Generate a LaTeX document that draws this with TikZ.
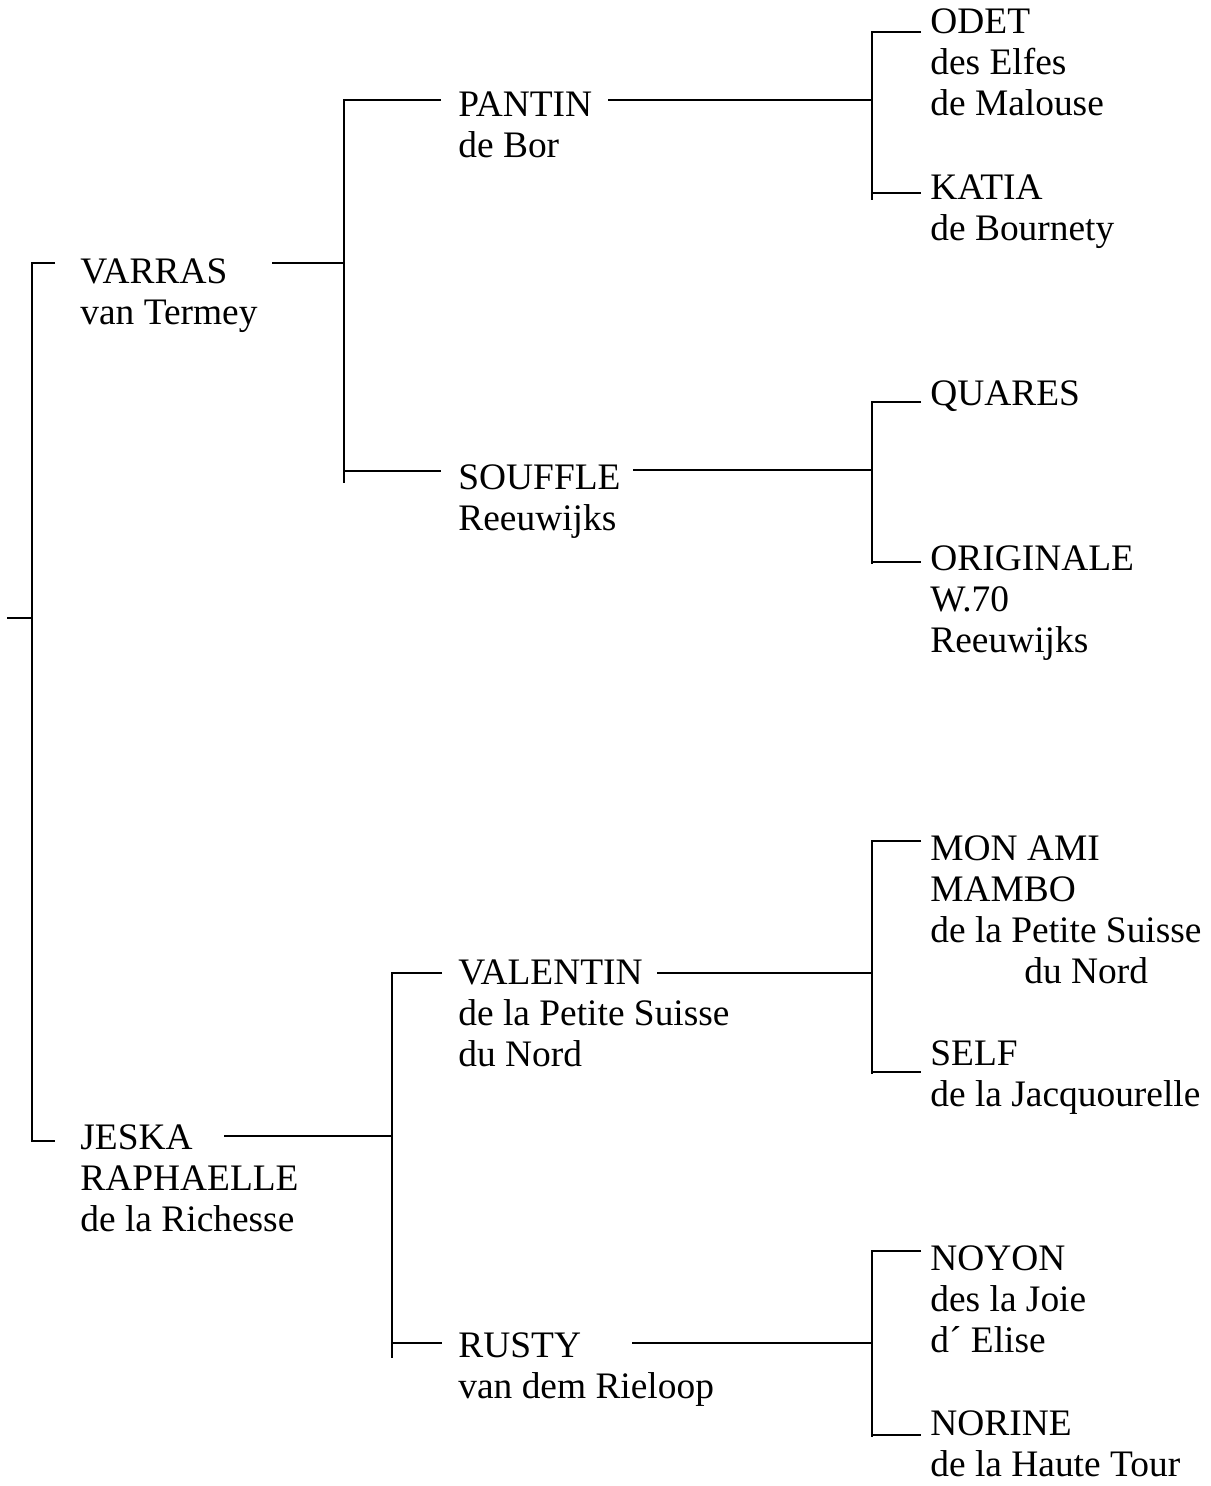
\documentclass[tikz,border=0pt]{standalone}
\usepackage{fontspec}
\setmainfont{Liberation Serif}
\usetikzlibrary{positioning}

\begin{document}
\begin{tikzpicture}[x=0.5pt,y=-0.5pt,
dog/.style={anchor=north west, inner sep=0pt, align=left, font=\fontsize{18.7}{20.5}\selectfont},
link/.style={line width=1.3pt}]
\useasboundingbox (0,0) rectangle (1210,1486);

\node[dog] (varras) at (80,258) {VARRAS\\van Termey};
\node[dog] (jeska) at (80,1124) {JESKA\\RAPHAELLE\\de la Richesse};

\node[dog] (pantin) at (458,91) {PANTIN\\de Bor};
\node[dog] (souffle) at (458,464) {SOUFFLE\\Reeuwijks};
\node[dog] (valentin) at (458,959) {VALENTIN\\de la Petite Suisse\\du Nord};
\node[dog] (rusty) at (458,1332) {RUSTY\\van dem Rieloop};

\node[dog] (odet) at (930,8) {ODET\\des Elfes\\de Malouse};
\node[dog] (katia) at (930,174) {KATIA\\de Bournety};
\node[dog] (quares) at (930,380) {QUARES};
\node[dog] (originale) at (930,545) {ORIGINALE\\W.70\\Reeuwijks};
\node[dog] (monami) at (930,835) {MON AMI\\MAMBO\\de la Petite Suisse\\\hspace*{47pt}du Nord};
\node[dog] (self) at (930,1040) {SELF\\de la Jacquourelle};
\node[dog] (noyon) at (930,1245) {NOYON\\des la Joie\\d´ Elise};
\node[dog] (norine) at (930,1410) {NORINE\\de la Haute Tour};

\coordinate (root) at (7,618);
\coordinate (root-v) at (32,618);
\coordinate (root-top) at (55,263);
\coordinate (root-bot) at (55,1141);
\draw[link] (root) -- (root-v);
\draw[link] (root-top) -- (32,263) -- (32,1141) -- (root-bot);

\coordinate (varras-out) at (272,263);
\coordinate (varras-v) at (344,263);
\coordinate (pantin-in) at (441,100);
\coordinate (souffle-in) at (441,471);
\draw[link] (varras-out) -- (varras-v);
\draw[link] (pantin-in) -- (344,100) -- (344,483);
\draw[link] (344,471) -- (souffle-in);

\coordinate (jeska-out) at (224,1136);
\coordinate (jeska-v) at (392,1136);
\coordinate (valentin-in) at (442,973);
\coordinate (rusty-in) at (442,1343);
\draw[link] (jeska-out) -- (jeska-v);
\draw[link] (valentin-in) -- (392,973) -- (392,1358);
\draw[link] (392,1343) -- (rusty-in);

\coordinate (pantin-out) at (608,100);
\coordinate (pantin-v) at (872,100);
\coordinate (odet-in) at (921,32);
\coordinate (katia-in) at (921,193);
\draw[link] (pantin-out) -- (pantin-v);
\draw[link] (odet-in) -- (872,32) -- (872,200);
\draw[link] (872,193) -- (katia-in);

\coordinate (souffle-out) at (633,470);
\coordinate (souffle-v) at (872,470);
\coordinate (quares-in) at (921,402);
\coordinate (originale-in) at (921,562);
\draw[link] (souffle-out) -- (souffle-v);
\draw[link] (quares-in) -- (872,402) -- (872,564);
\draw[link] (872,562) -- (originale-in);

\coordinate (valentin-out) at (657,973);
\coordinate (valentin-v) at (872,973);
\coordinate (monami-in) at (921,841);
\coordinate (self-in) at (921,1072);
\draw[link] (valentin-out) -- (valentin-v);
\draw[link] (monami-in) -- (872,841) -- (872,1074);
\draw[link] (872,1072) -- (self-in);

\coordinate (rusty-out) at (632,1343);
\coordinate (rusty-v) at (872,1343);
\coordinate (noyon-in) at (921,1251);
\coordinate (norine-in) at (921,1435);
\draw[link] (rusty-out) -- (rusty-v);
\draw[link] (noyon-in) -- (872,1251) -- (872,1437);
\draw[link] (872,1435) -- (norine-in);
\end{tikzpicture}
\end{document}
